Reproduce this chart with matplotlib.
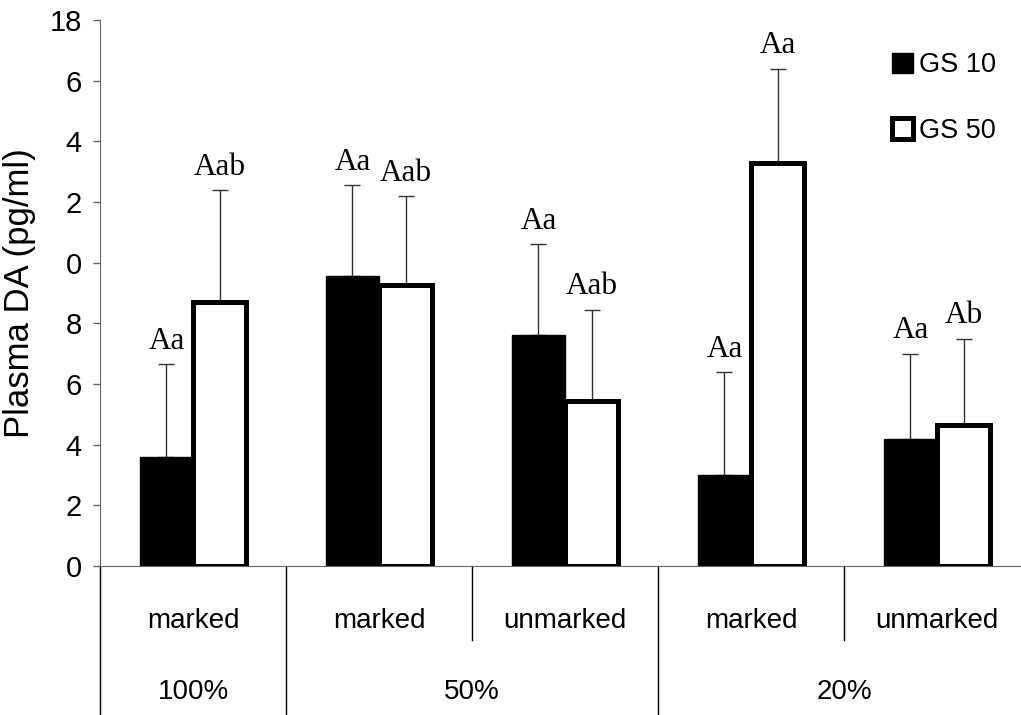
import matplotlib
matplotlib.use("Agg")
import matplotlib.pyplot as plt
from matplotlib.patches import Patch
import numpy as np

# plasma DA per treatment, two stocking groups
treatments = ["marked", "marked", "unmarked", "marked", "unmarked"]
levels = ["100%", "50%", "20%"]
level_centers = [0.5, 2.0, 4.0]

gs10_mean = [3.6, 9.55, 7.6, 3.0, 4.2]
gs10_err = [3.05, 3.0, 3.0, 3.4, 2.8]
gs10_sig = ["Aa", "Aa", "Aa", "Aa", "Aa"]

gs50_mean = [8.7, 9.25, 5.45, 13.3, 4.65]
gs50_err = [3.7, 2.95, 3.0, 3.1, 2.85]
gs50_sig = ["Aab", "Aab", "Aab", "Aa", "Ab"]

ytick_vals = [0, 2, 4, 6, 8, 10, 12, 14, 16, 18]
ytick_text = ["0", "2", "4", "6", "8", "0", "2", "4", "6", "18"]

plt.rcParams['font.family'] = ['Liberation Sans', 'DejaVu Sans']

fig = plt.figure(figsize=(10.21, 7.15), dpi=100)
ax = fig.add_axes([100 / 1021, 149 / 715, 930 / 1021, 546 / 715])

x = np.arange(len(treatments)) + 0.5
w = 0.285

# error bars go first so the bar bodies hide the lower caps
ax.errorbar(x - w / 2, gs10_mean, yerr=[np.zeros(5), gs10_err], fmt="none",
            ecolor="#333333", elinewidth=1, capsize=5.5, capthick=1, zorder=1)
ax.errorbar(x + w / 2, gs50_mean, yerr=[np.zeros(5), gs50_err], fmt="none",
            ecolor="#333333", elinewidth=1, capsize=5.5, capthick=1, zorder=1)

ax.bar(x - w / 2, gs10_mean, width=w, color="black", edgecolor="black",
       linewidth=1, zorder=2)
ax.bar(x + w / 2, gs50_mean, width=w, color="white", edgecolor="black",
       linewidth=3.6, zorder=2)

serif = ['Liberation Serif', 'DejaVu Serif']
for xi, m, e, s in zip(x - w / 2, gs10_mean, gs10_err, gs10_sig):
    ax.annotate(s, (xi, m + e), xytext=(0, 11), textcoords="offset points",
                ha="center", va="baseline", fontsize=22.5, family=serif)
for xi, m, e, s in zip(x + w / 2, gs50_mean, gs50_err, gs50_sig):
    ax.annotate(s, (xi, m + e), xytext=(0, 11), textcoords="offset points",
                ha="center", va="baseline", fontsize=22.5, family=serif)

ax.set_xlim(0, 5)
ax.set_ylim(0, 18)
ax.set_yticks(ytick_vals)
ax.set_yticklabels(ytick_text, fontsize=21)
ax.tick_params(axis="y", direction="out", length=5, width=1, color="#666666", pad=8)
ax.set_xticks([])
ax.set_ylabel("Plasma DA (pg/ml)", fontsize=25, labelpad=10)

for side in ["top", "right"]:
    ax.spines[side].set_visible(False)
ax.spines["left"].set_color("#666666")
ax.spines["bottom"].set_color("#666666")

# category table under the axis
trans = ax.get_xaxis_transform()
for b in [0, 1, 3]:
    ax.plot([b, b], [0, -0.273], color="black", lw=1, transform=trans, clip_on=False)
for b in [2, 4]:
    ax.plot([b, b], [0, -0.1355], color="black", lw=1, transform=trans, clip_on=False)
for xi, t in zip(x, treatments):
    ax.text(xi, -0.1007, t, transform=trans, ha="center", va="center", fontsize=20)
for xc, lv in zip(level_centers, levels):
    ax.text(xc, -0.2308, lv, transform=trans, ha="center", va="center", fontsize=20)

handles = [Patch(facecolor="black", edgecolor="black", linewidth=1),
           Patch(facecolor="white", edgecolor="black", linewidth=3.6)]
fig.legend(handles, ["GS 10", "GS 50"], loc="upper left",
           bbox_to_anchor=(868 / 1021, 1 - 28 / 715), frameon=False,
           fontsize=19.5, handlelength=0.75, handleheight=0.8,
           handletextpad=0.25, labelspacing=1.45)

fig.savefig("out.png", dpi=100)
